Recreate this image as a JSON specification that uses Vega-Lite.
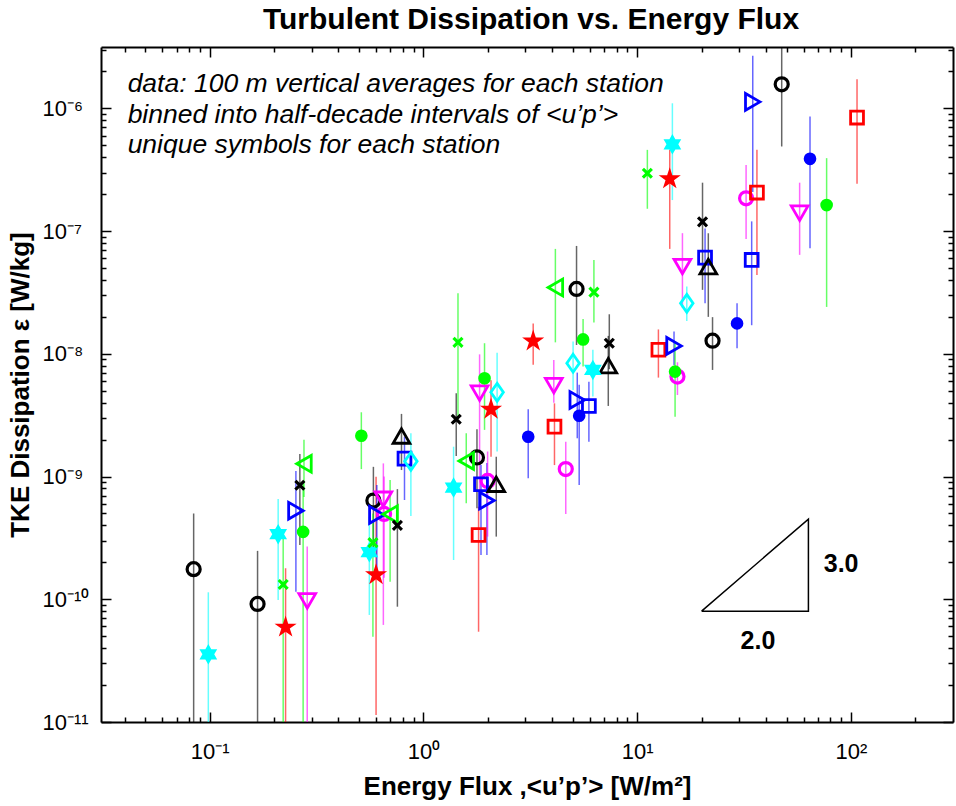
{
  "$schema": "https://vega.github.io/schema/vega-lite/v6.json",
  "width": 852,
  "height": 675,
  "autosize": {"type": "none"},
  "padding": {"left": 101, "top": 47, "right": 3, "bottom": 84},
  "background": "white",
  "title": {"text": "Turbulent Dissipation vs. Energy Flux", "font": "Liberation Sans", "fontSize": 30, "fontWeight": "bold", "color": "black", "anchor": "middle", "baseline": "alphabetic", "offset": -20, "dx": 4, "frame": "group"},
  "config": {
    "view": {"stroke": null},
    "font": "Liberation Sans",
    "axis": {"domainColor": "black", "domainWidth": 2, "tickColor": "black", "tickWidth": 1.5, "grid": false, "labelFont": "Liberation Sans", "labelFontSize": 22, "labelColor": "black", "titleFont": "Liberation Sans", "titleFontSize": 26, "titleFontWeight": "bold", "titleColor": "black", "labelFlush": false, "labelOverlap": false, "labelBound": false}
  },
  "datasets": {
    "pts": [
      {"st":"St01","flux":0.0841,"eps":1.76e-10,"lo":1e-11,"hi":5.0e-10},
      {"st":"St01","flux":0.1674,"eps":9.16e-11,"lo":1e-11,"hi":2.48e-10},
      {"st":"St01","flux":0.583,"eps":6.37e-10,"lo":2.5e-10,"hi":1.2e-9},
      {"st":"St01","flux":1.779,"eps":1.43e-9,"lo":5.52e-10,"hi":2.43e-9},
      {"st":"St01","flux":5.2,"eps":3.38e-8,"lo":1.18e-8,"hi":7.57e-8},
      {"st":"St01","flux":22.5,"eps":1.28e-8,"lo":7.39e-9,"hi":1.99e-8},
      {"st":"St01","flux":47.4,"eps":1.57e-6,"lo":4.89e-7,"hi":3.16e-6},
      {"st":"St02","flux":0.0985,"eps":3.56e-11,"lo":1e-11,"hi":1.14e-10},
      {"st":"St02","flux":0.209,"eps":3.39e-10,"lo":9.87e-11,"hi":6.56e-10},
      {"st":"St02","flux":0.558,"eps":2.42e-10,"lo":7.45e-11,"hi":4.71e-10},
      {"st":"St02","flux":1.383,"eps":8.13e-10,"lo":2.09e-10,"hi":1.75e-9},
      {"st":"St02","flux":6.2,"eps":7.39e-9,"lo":4.48e-9,"hi":1.08e-8},
      {"st":"St02","flux":14.6,"eps":5.1e-7,"lo":1.79e-7,"hi":1.1e-6},
      {"st":"St03","flux":0.2264,"eps":5.92e-11,"lo":1e-11,"hi":1.79e-10},
      {"st":"St03","flux":0.6,"eps":1.58e-10,"lo":1.14e-11,"hi":9.98e-10},
      {"st":"St03","flux":2.07,"eps":3.53e-9,"lo":1.45e-9,"hi":6.1e-9},
      {"st":"St03","flux":3.26,"eps":1.27e-8,"lo":8.13e-9,"hi":1.77e-8},
      {"st":"St03","flux":14.19,"eps":2.66e-7,"lo":7.16e-8,"hi":4.6e-7},
      {"st":"St04","flux":0.2206,"eps":1.32e-10,"lo":1e-11,"hi":3.1e-10},
      {"st":"St04","flux":0.58,"eps":2.89e-10,"lo":4.95e-11,"hi":5.0e-10},
      {"st":"St04","flux":1.45,"eps":1.24e-8,"lo":3.08e-9,"hi":3.12e-8},
      {"st":"St04","flux":6.27,"eps":3.18e-8,"lo":1.8e-8,"hi":5.82e-8},
      {"st":"St04","flux":11.15,"eps":2.96e-7,"lo":1.52e-7,"hi":4.59e-7},
      {"st":"St05","flux":0.253,"eps":5.27e-10,"lo":1.15e-10,"hi":1.11e-9},
      {"st":"St05","flux":0.605,"eps":4.87e-10,"lo":1.73e-10,"hi":8.55e-10},
      {"st":"St05","flux":1.98,"eps":6.37e-10,"lo":2.3e-10,"hi":1.29e-9},
      {"st":"St05","flux":5.24,"eps":4.21e-9,"lo":2.05e-9,"hi":7.03e-9},
      {"st":"St05","flux":14.86,"eps":1.16e-8,"lo":8.1e-9,"hi":1.52e-8},
      {"st":"St05","flux":34.7,"eps":1.13e-6,"lo":2.08e-7,"hi":2.68e-6},
      {"st":"St06","flux":0.264,"eps":8.49e-10,"lo":2.77e-10,"hi":1.53e-9},
      {"st":"St06","flux":0.755,"eps":4.0e-10,"lo":8.7e-11,"hi":7.9e-10},
      {"st":"St06","flux":1.423,"eps":2.93e-9,"lo":1.47e-9,"hi":4.78e-9},
      {"st":"St06","flux":7.4,"eps":1.22e-8,"lo":7.5e-9,"hi":2.1e-8},
      {"st":"St06","flux":20.2,"eps":1.19e-7,"lo":3.32e-8,"hi":2.48e-7},
      {"st":"St07","flux":0.276,"eps":1.27e-9,"lo":6.8e-10,"hi":1.99e-9},
      {"st":"St07","flux":0.698,"eps":4.93e-10,"lo":1.39e-10,"hi":9.37e-10},
      {"st":"St07","flux":1.585,"eps":1.34e-9,"lo":6.05e-10,"hi":2.25e-9},
      {"st":"St07","flux":4.14,"eps":3.47e-8,"lo":1.24e-8,"hi":7.16e-8},
      {"st":"St08","flux":0.2735,"eps":3.54e-10,"lo":1e-11,"hi":9e-10},
      {"st":"St08","flux":0.512,"eps":2.15e-9,"lo":1.15e-9,"hi":3.34e-9},
      {"st":"St08","flux":1.93,"eps":6.32e-9,"lo":2.4e-9,"hi":1.22e-8},
      {"st":"St08","flux":5.58,"eps":1.31e-8,"lo":7.87e-9,"hi":1.92e-8},
      {"st":"St08","flux":15.03,"eps":7.16e-9,"lo":3.07e-9,"hi":1.26e-8},
      {"st":"St08","flux":76.9,"eps":1.63e-7,"lo":2.41e-8,"hi":3.93e-7},
      {"st":"St09","flux":0.2858,"eps":9.7e-11,"lo":1e-11,"hi":2.69e-10},
      {"st":"St09","flux":0.649,"eps":6.53e-10,"lo":6.18e-11,"hi":1.28e-9},
      {"st":"St09","flux":1.83,"eps":4.78e-9,"lo":6.86e-10,"hi":9.9e-9},
      {"st":"St09","flux":4.07,"eps":5.51e-9,"lo":4.0e-9,"hi":8.9e-9},
      {"st":"St09","flux":16.27,"eps":5.14e-8,"lo":2.37e-8,"hi":9.62e-8},
      {"st":"St09","flux":57.5,"eps":1.4e-7,"lo":6.4e-8,"hi":2.48e-7},
      {"st":"St10","flux":0.789,"eps":2.14e-9,"lo":1.13e-9,"hi":3.24e-9},
      {"st":"St10","flux":2.19,"eps":8.65e-10,"lo":3.24e-10,"hi":1.45e-9},
      {"st":"St10","flux":7.32,"eps":8.02e-9,"lo":3.76e-9,"hi":1.4e-8},
      {"st":"St10","flux":21.5,"eps":5.14e-8,"lo":2.0e-8,"hi":9.6e-8},
      {"st":"St11","flux":0.815,"eps":1.4e-9,"lo":6.44e-10,"hi":2.11e-9},
      {"st":"St11","flux":1.858,"eps":8.65e-10,"lo":2.3e-10,"hi":1.24e-9},
      {"st":"St11","flux":5.94,"eps":3.76e-9,"lo":1.92e-9,"hi":5.93e-9},
      {"st":"St11","flux":20.76,"eps":6.08e-8,"lo":2.58e-8,"hi":1.05e-7},
      {"st":"St11","flux":34.3,"eps":5.82e-8,"lo":1.71e-8,"hi":1.2e-7},
      {"st":"St12","flux":0.873,"eps":1.33e-9,"lo":4.78e-10,"hi":2.25e-9},
      {"st":"St12","flux":2.21,"eps":4.86e-9,"lo":1.6e-9,"hi":1.02e-8},
      {"st":"St12","flux":5.01,"eps":8.38e-9,"lo":5.08e-9,"hi":1.26e-8},
      {"st":"St12","flux":17.05,"eps":2.58e-8,"lo":1.85e-8,"hi":3.53e-8},
      {"st":"St13","flux":0.654,"eps":4.96e-10,"lo":1.5e-10,"hi":1.0e-9},
      {"st":"St13","flux":1.995,"eps":9.2e-10,"lo":3.24e-10,"hi":1.6e-9},
      {"st":"St13","flux":4.63,"eps":1.15e-9,"lo":4.96e-10,"hi":1.92e-9},
      {"st":"St13","flux":15.42,"eps":6.52e-9,"lo":4.62e-9,"hi":8.53e-9},
      {"st":"St13","flux":32.3,"eps":1.85e-7,"lo":8.63e-8,"hi":3.46e-7},
      {"st":"St14","flux":1.81,"eps":3.34e-10,"lo":5.44e-11,"hi":5.68e-10},
      {"st":"St14","flux":4.1,"eps":2.55e-9,"lo":1.24e-9,"hi":3.95e-9},
      {"st":"St14","flux":12.56,"eps":1.08e-8,"lo":6.4e-9,"hi":1.58e-8},
      {"st":"St14","flux":36.3,"eps":2.06e-7,"lo":4.39e-8,"hi":4.6e-7},
      {"st":"St14","flux":106.7,"eps":8.41e-7,"lo":2.43e-7,"hi":1.73e-6},
      {"st":"St15","flux":3.09,"eps":2.11e-9,"lo":9.68e-10,"hi":3.53e-9},
      {"st":"St15","flux":5.35,"eps":3.13e-9,"lo":8.55e-10,"hi":5.6e-9},
      {"st":"St15","flux":29.3,"eps":1.77e-8,"lo":1.11e-8,"hi":2.58e-8},
      {"st":"St15","flux":64.3,"eps":3.88e-7,"lo":7.26e-8,"hi":8.57e-7}
    ],
    "tri": [
      {"ord":1,"tx":20,"ty":8e-11},
      {"ord":2,"tx":63.2,"ty":8e-11},
      {"ord":3,"tx":63.2,"ty":4.5e-10},
      {"ord":4,"tx":20,"ty":8e-11}
    ],
    "slopes": [
      {"lx":89.9,"ly":1.667e-10,"lab":"3.0"},
      {"lx":36.7,"ly":3.94e-11,"lab":"2.0"}
    ],
    "notes": [
      {"nx":0.0413,"ny":2.015e-6,"note":"data: 100 m vertical averages for each station\nbinned into half-decade intervals of <u’p’>\nunique symbols for each station"}
    ]
  },
  "resolve": {"axis": {"x": "independent", "y": "independent"}},
  "layer": [
    {
      "data": {"name": "pts"},
      "mark": {"type": "rule", "strokeWidth": 1.5, "opacity": 0.6, "clip": true},
      "encoding": {
        "x": {"field": "flux", "type": "quantitative", "scale": {"type": "log", "domain": [0.031, 300], "nice": false},
          "axis": {"orient": "bottom", "title": "Energy Flux ,<u’p’> [W/m²]",
            "values": [0.04,0.05,0.06,0.07,0.08,0.09,0.1,0.2,0.3,0.4,0.5,0.6,0.7,0.8,0.9,1,2,3,4,5,6,7,8,9,10,20,30,40,50,60,70,80,90,100,200],
            "labelExpr": "abs(log(datum.value)/LN10 - round(log(datum.value)/LN10)) < 0.001 ? (round(log(datum.value)/LN10) == -1 ? '10⁻¹' : round(log(datum.value)/LN10) == 0 ? '10⁰' : round(log(datum.value)/LN10) == 1 ? '10¹' : '10²') : ''",
            "tickSize": {"condition": {"test": "abs(log(datum.value)/LN10 - round(log(datum.value)/LN10)) < 0.001", "value": -10}, "value": -5},
            "labelPadding": 29, "titlePadding": 6}},
        "y": {"field": "lo", "type": "quantitative", "scale": {"type": "log", "domain": [1e-11, 3.1623e-6], "nice": false},
          "axis": {"orient": "left", "title": "TKE Dissipation  ε [W/kg]",
            "values": [1e-11,2e-11,3e-11,4e-11,5e-11,6e-11,7e-11,8e-11,9e-11,1e-10,2e-10,3e-10,4e-10,5e-10,6e-10,7e-10,8e-10,9e-10,1e-9,2e-9,3e-9,4e-9,5e-9,6e-9,7e-9,8e-9,9e-9,1e-8,2e-8,3e-8,4e-8,5e-8,6e-8,7e-8,8e-8,9e-8,1e-7,2e-7,3e-7,4e-7,5e-7,6e-7,7e-7,8e-7,9e-7,1e-6,2e-6,3e-6],
            "labelExpr": "abs(log(datum.value)/LN10 - round(log(datum.value)/LN10)) < 0.001 ? ('10' + (round(log(datum.value)/LN10) == -6 ? '⁻⁶' : round(log(datum.value)/LN10) == -7 ? '⁻⁷' : round(log(datum.value)/LN10) == -8 ? '⁻⁸' : round(log(datum.value)/LN10) == -9 ? '⁻⁹' : round(log(datum.value)/LN10) == -10 ? '⁻¹⁰' : '⁻¹¹')) : ''",
            "tickSize": {"condition": {"test": "abs(log(datum.value)/LN10 - round(log(datum.value)/LN10)) < 0.001", "value": -10}, "value": -5},
            "labelPadding": 69, "labelAlign": "left", "labelBaseline": "middle", "titlePadding": 4}},
        "y2": {"field": "hi"},
        "color": {"field": "st", "type": "nominal", "legend": null,
          "scale": {"domain": ["St01","St02","St03","St04","St05","St06","St07","St08","St09","St10","St11","St12","St13","St14","St15"],
            "range": ["#000000","#00ffff","#ff0000","#00ff00","#0000ff","#000000","#00ff00","#00ff00","#ff00ff","#000000","#0000ff","#00ffff","#ff00ff","#ff0000","#0000ff"]}}
      }
    },
    {
      "data": {"name": "tri"},
      "mark": {"type": "line", "color": "black", "strokeWidth": 1.5},
      "encoding": {
        "x": {"field": "tx", "type": "quantitative", "scale": {"type": "log", "domain": [0.031, 300], "nice": false},
          "axis": {"orient": "top", "title": null, "labels": false, "minExtent": 0, "maxExtent": 0,
            "values": [0.04,0.05,0.06,0.07,0.08,0.09,0.1,0.2,0.3,0.4,0.5,0.6,0.7,0.8,0.9,1,2,3,4,5,6,7,8,9,10,20,30,40,50,60,70,80,90,100,200],
            "tickSize": {"condition": {"test": "abs(log(datum.value)/LN10 - round(log(datum.value)/LN10)) < 0.001", "value": -10}, "value": -5}}},
        "y": {"field": "ty", "type": "quantitative", "scale": {"type": "log", "domain": [1e-11, 3.1623e-6], "nice": false},
          "axis": {"orient": "right", "title": null, "labels": false,
            "values": [1e-11,2e-11,3e-11,4e-11,5e-11,6e-11,7e-11,8e-11,9e-11,1e-10,2e-10,3e-10,4e-10,5e-10,6e-10,7e-10,8e-10,9e-10,1e-9,2e-9,3e-9,4e-9,5e-9,6e-9,7e-9,8e-9,9e-9,1e-8,2e-8,3e-8,4e-8,5e-8,6e-8,7e-8,8e-8,9e-8,1e-7,2e-7,3e-7,4e-7,5e-7,6e-7,7e-7,8e-7,9e-7,1e-6,2e-6,3e-6],
            "tickSize": {"condition": {"test": "abs(log(datum.value)/LN10 - round(log(datum.value)/LN10)) < 0.001", "value": -10}, "value": -5}}},
        "order": {"field": "ord", "type": "quantitative"}
      }
    },
    {
      "data": {"name": "pts"},
      "transform": [{"filter": {"field": "st", "oneOf": ["St01","St13"]}}],
      "mark": {"type": "point", "filled": false, "size": 170, "strokeWidth": 3.2, "opacity": 1, "clip": true},
      "encoding": {
        "x": {"field": "flux", "type": "quantitative", "scale": {"type": "log", "domain": [0.031, 300], "nice": false}, "axis": null},
        "y": {"field": "eps", "type": "quantitative", "scale": {"type": "log", "domain": [1e-11, 3.1623e-6], "nice": false}, "axis": null},
        "color": {"field": "st", "type": "nominal", "legend": null},
        "shape": {"field": "st", "type": "nominal", "legend": null,
          "scale": {"domain": ["St01","St02","St03","St04","St05","St06","St07","St08","St09","St10","St11","St12","St13","St14","St15"],
            "range": ["circle","M0,-1L0.289,-0.5L0.866,-0.5L0.577,0L0.866,0.5L0.289,0.5L0,1L-0.289,0.5L-0.866,0.5L-0.577,0L-0.866,-0.5L-0.289,-0.5Z","M0,-1L0.225,-0.309L0.951,-0.309L0.363,0.118L0.588,0.809L0,0.382L-0.588,0.809L-0.363,0.118L-0.951,-0.309L-0.225,-0.309Z","M-1,-0.6L-0.6,-1L0,-0.4L0.6,-1L1,-0.6L0.4,0L1,0.6L0.6,1L0,0.4L-0.6,1L-1,0.6L-0.4,0Z","triangle-right","M-1,-0.6L-0.6,-1L0,-0.4L0.6,-1L1,-0.6L0.4,0L1,0.6L0.6,1L0,0.4L-0.6,1L-1,0.6L-0.4,0Z","triangle-left","circle","triangle-down","triangle-up","square","M0,-1L0.7,0L0,1L-0.7,0Z","circle","square","circle"]}}
      }
    },
    {
      "data": {"name": "pts"},
      "transform": [{"filter": {"field": "st", "oneOf": ["St11","St14"]}}],
      "mark": {"type": "point", "filled": false, "size": 165, "strokeWidth": 2.8, "opacity": 1, "clip": true},
      "encoding": {
        "x": {"field": "flux", "type": "quantitative", "scale": {"type": "log", "domain": [0.031, 300], "nice": false}, "axis": null},
        "y": {"field": "eps", "type": "quantitative", "scale": {"type": "log", "domain": [1e-11, 3.1623e-6], "nice": false}, "axis": null},
        "color": {"field": "st", "type": "nominal", "legend": null},
        "shape": {"field": "st", "type": "nominal", "legend": null}
      }
    },
    {
      "data": {"name": "pts"},
      "transform": [{"filter": {"field": "st", "oneOf": ["St05","St07","St09","St10"]}}],
      "mark": {"type": "point", "filled": false, "size": 280, "strokeWidth": 2.8, "opacity": 1, "clip": true},
      "encoding": {
        "x": {"field": "flux", "type": "quantitative", "scale": {"type": "log", "domain": [0.031, 300], "nice": false}, "axis": null},
        "y": {"field": "eps", "type": "quantitative", "scale": {"type": "log", "domain": [1e-11, 3.1623e-6], "nice": false}, "axis": null},
        "color": {"field": "st", "type": "nominal", "legend": null},
        "shape": {"field": "st", "type": "nominal", "legend": null}
      }
    },
    {
      "data": {"name": "pts"},
      "transform": [{"filter": {"field": "st", "oneOf": ["St12"]}}],
      "mark": {"type": "point", "filled": false, "size": 320, "strokeWidth": 2.8, "opacity": 1, "clip": true},
      "encoding": {
        "x": {"field": "flux", "type": "quantitative", "scale": {"type": "log", "domain": [0.031, 300], "nice": false}, "axis": null},
        "y": {"field": "eps", "type": "quantitative", "scale": {"type": "log", "domain": [1e-11, 3.1623e-6], "nice": false}, "axis": null},
        "color": {"field": "st", "type": "nominal", "legend": null},
        "shape": {"field": "st", "type": "nominal", "legend": null}
      }
    },
    {
      "data": {"name": "pts"},
      "transform": [{"filter": {"field": "st", "oneOf": ["St08","St15"]}}],
      "mark": {"type": "point", "filled": true, "size": 160, "opacity": 1, "clip": true},
      "encoding": {
        "x": {"field": "flux", "type": "quantitative", "scale": {"type": "log", "domain": [0.031, 300], "nice": false}, "axis": null},
        "y": {"field": "eps", "type": "quantitative", "scale": {"type": "log", "domain": [1e-11, 3.1623e-6], "nice": false}, "axis": null},
        "color": {"field": "st", "type": "nominal", "legend": null},
        "shape": {"field": "st", "type": "nominal", "legend": null}
      }
    },
    {
      "data": {"name": "pts"},
      "transform": [{"filter": {"field": "st", "oneOf": ["St03"]}}],
      "mark": {"type": "point", "filled": true, "size": 540, "opacity": 1, "clip": true},
      "encoding": {
        "x": {"field": "flux", "type": "quantitative", "scale": {"type": "log", "domain": [0.031, 300], "nice": false}, "axis": null},
        "y": {"field": "eps", "type": "quantitative", "scale": {"type": "log", "domain": [1e-11, 3.1623e-6], "nice": false}, "axis": null},
        "color": {"field": "st", "type": "nominal", "legend": null},
        "shape": {"field": "st", "type": "nominal", "legend": null}
      }
    },
    {
      "data": {"name": "pts"},
      "transform": [{"filter": {"field": "st", "oneOf": ["St02"]}}],
      "mark": {"type": "point", "filled": true, "size": 420, "opacity": 1, "clip": true},
      "encoding": {
        "x": {"field": "flux", "type": "quantitative", "scale": {"type": "log", "domain": [0.031, 300], "nice": false}, "axis": null},
        "y": {"field": "eps", "type": "quantitative", "scale": {"type": "log", "domain": [1e-11, 3.1623e-6], "nice": false}, "axis": null},
        "color": {"field": "st", "type": "nominal", "legend": null},
        "shape": {"field": "st", "type": "nominal", "legend": null}
      }
    },
    {
      "data": {"name": "pts"},
      "transform": [{"filter": {"field": "st", "oneOf": ["St04","St06"]}}],
      "mark": {"type": "point", "filled": true, "size": 125, "opacity": 1, "clip": true},
      "encoding": {
        "x": {"field": "flux", "type": "quantitative", "scale": {"type": "log", "domain": [0.031, 300], "nice": false}, "axis": null},
        "y": {"field": "eps", "type": "quantitative", "scale": {"type": "log", "domain": [1e-11, 3.1623e-6], "nice": false}, "axis": null},
        "color": {"field": "st", "type": "nominal", "legend": null},
        "shape": {"field": "st", "type": "nominal", "legend": null}
      }
    },
    {
      "data": {"name": "slopes"},
      "mark": {"type": "text", "font": "Liberation Sans", "fontSize": 25, "fontWeight": "bold", "color": "black", "align": "center", "baseline": "alphabetic"},
      "encoding": {
        "x": {"field": "lx", "type": "quantitative", "scale": {"type": "log", "domain": [0.031, 300], "nice": false}, "axis": null},
        "y": {"field": "ly", "type": "quantitative", "scale": {"type": "log", "domain": [1e-11, 3.1623e-6], "nice": false}, "axis": null},
        "text": {"field": "lab"}
      }
    },
    {
      "data": {"name": "notes"},
      "mark": {"type": "text", "font": "Liberation Sans", "fontSize": 26.5, "fontStyle": "italic", "color": "black", "align": "left", "baseline": "top", "lineBreak": "\n", "lineHeight": 30.5},
      "encoding": {
        "x": {"field": "nx", "type": "quantitative", "scale": {"type": "log", "domain": [0.031, 300], "nice": false}, "axis": null},
        "y": {"field": "ny", "type": "quantitative", "scale": {"type": "log", "domain": [1e-11, 3.1623e-6], "nice": false}, "axis": null},
        "text": {"field": "note"}
      }
    }
  ]
}
